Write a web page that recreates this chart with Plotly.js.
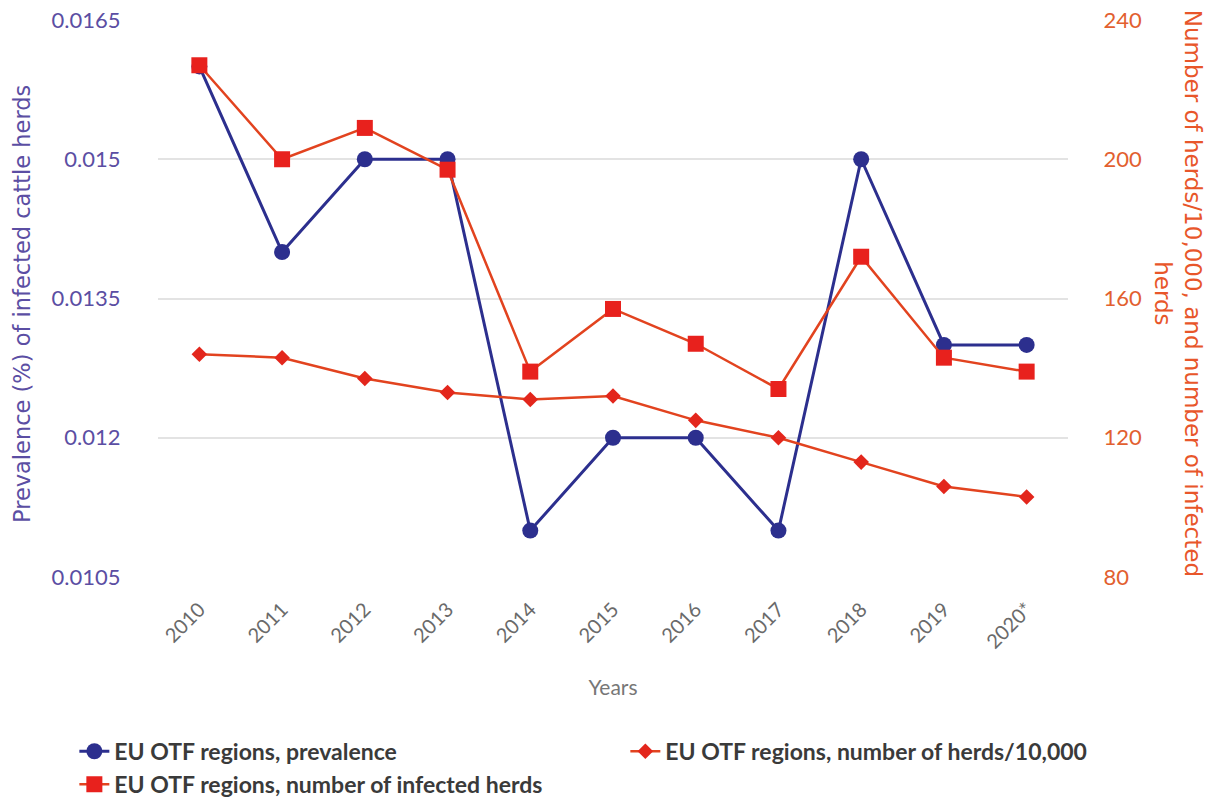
<!DOCTYPE html>
<html>
<head>
<meta charset="utf-8">
<script src="https://cdn.plot.ly/plotly-3.0.1.min.js"></script>
<style>html,body{margin:0;padding:0;background:#fff;}#chart{width:1219px;height:802px;}</style>
</head>
<body>
<div id="chart"></div>
<script>
const years = ["2010","2011","2012","2013","2014","2015","2016","2017","2018","2019","2020*"];
const prevalence = [0.016, 0.014, 0.015, 0.015, 0.011, 0.012, 0.012, 0.011, 0.015, 0.013, 0.013];
const infectedHerds = [227, 200, 209, 197, 139, 157, 147, 134, 172, 143, 139];
const herdsPer10000 = [144, 143, 137, 133, 131, 132, 125, 120, 113, 106, 103];
const leftTicks = [0.0105, 0.012, 0.0135, 0.015, 0.0165];
const rightTicks = [80, 120, 160, 200, 240];

const FONT = "Lato, 'Open Sans', sans-serif";
const TFONT = "'DejaVu Sans', sans-serif";
const traces = [
  {x: years, y: prevalence, name: "EU OTF regions, prevalence", type: "scatter", mode: "lines+markers",
   yaxis: "y", legend: "legend", line: {color: "#2c2f8e", width: 3}, marker: {symbol: "circle", size: 16, color: "#2c2f8e"}},
  {x: years, y: infectedHerds, name: "EU OTF regions, number of infected herds", type: "scatter", mode: "lines+markers",
   yaxis: "y2", legend: "legend", line: {color: "#e2431f", width: 2.5}, marker: {symbol: "square", size: 16, color: "#e8211d"}},
  {x: years, y: herdsPer10000, name: "EU OTF regions, number of herds/10,000", type: "scatter", mode: "lines+markers",
   yaxis: "y2", legend: "legend2", line: {color: "#e2431f", width: 2.5}, marker: {symbol: "diamond", size: 12, color: "#e3261c"}}
];

const legendFont = {family: FONT, size: 23, color: "#3a3a3a", weight: 700};
const layout = {
  width: 1219, height: 802,
  margin: {l: 158, r: 151, t: 20, b: 225, autoexpand: false},
  paper_bgcolor: "#fff", plot_bgcolor: "#fff",
  font: {family: FONT, color: "#555"},
  showlegend: true,
  legend: {orientation: "v", xref: "container", yref: "container", x: 0.061, y: 0.090, xanchor: "left", yanchor: "top",
           font: legendFont, itemwidth: 30, tracegroupgap: 0, bgcolor: "rgba(0,0,0,0)"},
  legend2: {orientation: "v", xref: "container", yref: "container", x: 0.513, y: 0.090, xanchor: "left", yanchor: "top",
           font: legendFont, itemwidth: 30, bgcolor: "rgba(0,0,0,0)"},
  xaxis: {type: "category", range: [-0.5, 10.5], tickangle: -45, showgrid: false, zeroline: false, showline: false,
          ticks: "outside", ticklen: 12, tickcolor: "rgba(0,0,0,0)", tickfont: {family: FONT, size: 20, color: "#6a6a6a"},
          title: {text: "Years", font: {family: FONT, size: 21, color: "#777"}, standoff: 28}},
  yaxis: {range: [0.0105, 0.0165], tickvals: leftTicks, ticktext: leftTicks.map(String), showgrid: true, gridcolor: "#e3e3e3", gridwidth: 2,
          zeroline: false, showline: false, ticks: "outside", ticklen: 32, tickcolor: "rgba(0,0,0,0)",
          tickfont: {family: FONT, size: 22, color: "#5b4ea3"}},
  yaxis2: {range: [80, 240], tickvals: rightTicks, overlaying: "y", side: "right", showgrid: false, zeroline: false, showline: false,
           ticks: "outside", ticklen: 30, tickcolor: "rgba(0,0,0,0)", tickfont: {family: FONT, size: 22, color: "#e2602f"}},
  annotations: [
    {text: "Prevalence (%) of infected cattle herds", xref: "paper", yref: "paper", x: -0.1495, y: 0.49,
     xanchor: "center", yanchor: "middle", textangle: -90, showarrow: false,
     font: {family: TFONT, size: 22.5, color: "#5b4ea3"}},
    {text: "Number of herds/10,000, and number of infected<br>herds", xref: "paper", yref: "paper", x: 1.121, y: 0.51,
     xanchor: "center", yanchor: "middle", textangle: 90, showarrow: false, align: "center",
     font: {family: TFONT, size: 23, color: "#e8562a"}}
  ]
};

Plotly.newPlot("chart", traces, layout, {displayModeBar: false, staticPlot: true});
</script>
</body>
</html>
